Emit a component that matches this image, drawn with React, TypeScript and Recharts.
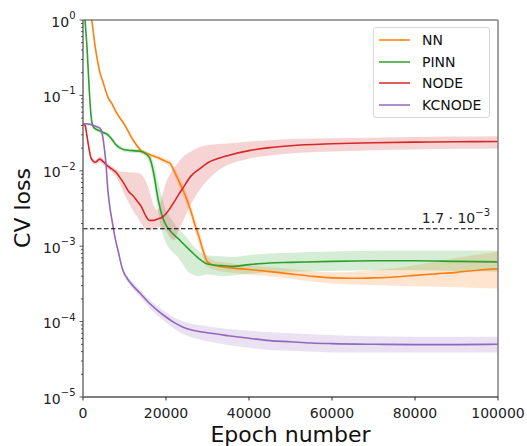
import React from 'react';
import { ComposedChart, Line, Area, XAxis, YAxis, ReferenceLine, Label } from 'recharts';

const FONT = '"DejaVu Sans", "Liberation Sans", sans-serif';

// NN
const nnEpochs = [0, 1000, 2000, 3000, 4000, 5000, 6000, 7000, 8000, 10000, 12000, 14000, 16000, 18000, 20000, 21000, 22000, 23000, 24000, 25000, 26000, 27000, 28000, 29000, 30000, 32000, 35000, 40000, 45000, 50000, 55000, 60000, 65000, 70000, 75000, 80000, 85000, 90000, 95000, 100000];
const nnMean = [5.0, 2.2, 1.1, 0.42, 0.21, 0.14, 0.095, 0.077, 0.06, 0.041, 0.026, 0.0185, 0.0165, 0.015, 0.0133, 0.0125, 0.0098, 0.0075, 0.0057, 0.0042, 0.0029, 0.0019, 0.0013, 0.00085, 0.00062, 0.00055, 0.00052, 0.00049, 0.00046, 0.00043, 0.0004, 0.00038, 0.000375, 0.00038, 0.00039, 0.00041, 0.00043, 0.00045, 0.00048, 0.0005];
const nnLow = [4.7, 2.05, 1.03, 0.4, 0.2, 0.133, 0.09, 0.073, 0.057, 0.039, 0.0245, 0.0174, 0.0155, 0.014, 0.0122, 0.0113, 0.0086, 0.0064, 0.0048, 0.0035, 0.0024, 0.00155, 0.00105, 0.0007, 0.00053, 0.00048, 0.00045, 0.00042, 0.0004, 0.00037, 0.00034, 0.00032, 0.00031, 0.000305, 0.0003, 0.000295, 0.00029, 0.000285, 0.00028, 0.000275];
const nnHigh = [5.3, 2.35, 1.17, 0.44, 0.22, 0.147, 0.1, 0.081, 0.063, 0.043, 0.0275, 0.0196, 0.0175, 0.016, 0.0145, 0.0138, 0.0112, 0.0088, 0.0068, 0.005, 0.0035, 0.0023, 0.0016, 0.00103, 0.00073, 0.00063, 0.0006, 0.00056, 0.00053, 0.0005, 0.00047, 0.00045, 0.00046, 0.00048, 0.00051, 0.00056, 0.00062, 0.0007, 0.00077, 0.00085];

// PINN
const pinnEpochs = [0, 500, 1000, 1500, 2000, 2500, 3000, 4000, 5000, 6000, 7000, 8000, 9000, 10000, 12000, 14000, 16000, 17000, 18000, 19000, 20000, 21000, 22000, 23000, 24000, 25000, 26000, 28000, 30000, 32000, 34000, 36000, 40000, 45000, 50000, 60000, 70000, 80000, 90000, 100000];
const pinnMean = [3.0, 1.0, 0.4, 0.12, 0.05, 0.038, 0.036, 0.034, 0.032, 0.03, 0.026, 0.022, 0.02, 0.019, 0.0185, 0.018, 0.015, 0.0095, 0.0045, 0.0026, 0.0019, 0.0016, 0.0014, 0.00125, 0.0011, 0.00097, 0.00086, 0.00068, 0.00058, 0.00056, 0.00055, 0.00054, 0.00057, 0.0006, 0.00061, 0.00063, 0.00064, 0.00064, 0.00063, 0.00062];
const pinnLow = [2.8, 0.93, 0.37, 0.11, 0.046, 0.036, 0.034, 0.032, 0.03, 0.028, 0.024, 0.0205, 0.0187, 0.0178, 0.0174, 0.0168, 0.0125, 0.007, 0.003, 0.0016, 0.0011, 0.0009, 0.0008, 0.0007, 0.00058, 0.00048, 0.00043, 0.0004, 0.00042, 0.00041, 0.0004, 0.00041, 0.00043, 0.00045, 0.00046, 0.00047, 0.00048, 0.00048, 0.00047, 0.00046];
const pinnHigh = [3.2, 1.07, 0.43, 0.13, 0.054, 0.04, 0.038, 0.036, 0.034, 0.032, 0.028, 0.0235, 0.0213, 0.0202, 0.0196, 0.0192, 0.017, 0.013, 0.0075, 0.0045, 0.003, 0.0024, 0.002, 0.0017, 0.0015, 0.0013, 0.0011, 0.00085, 0.00075, 0.00074, 0.00073, 0.00072, 0.00076, 0.0008, 0.00082, 0.00085, 0.00087, 0.00088, 0.00088, 0.00087];

// NODE
const nodeEpochs = [0, 500, 1000, 1500, 2000, 3000, 4000, 5000, 6000, 7000, 8000, 9000, 10000, 11000, 12000, 13000, 14000, 15000, 16000, 17000, 18000, 19000, 20000, 21000, 22000, 23000, 24000, 26000, 28000, 30000, 32000, 35000, 40000, 45000, 50000, 60000, 70000, 80000, 90000, 100000];
const nodeMean = [0.042, 0.04, 0.028, 0.019, 0.0145, 0.013, 0.0143, 0.013, 0.0115, 0.0105, 0.0095, 0.008, 0.0066, 0.0053, 0.0047, 0.004, 0.0034, 0.0026, 0.0022, 0.0022, 0.0023, 0.0024, 0.0027, 0.0032, 0.0039, 0.0048, 0.0058, 0.0085, 0.0105, 0.0127, 0.0142, 0.016, 0.0185, 0.0203, 0.0215, 0.0228, 0.0236, 0.024, 0.0243, 0.0245];
const nodeLow = [0.04, 0.038, 0.026, 0.0175, 0.0135, 0.012, 0.013, 0.0118, 0.0105, 0.0095, 0.0083, 0.0065, 0.0048, 0.0038, 0.003, 0.0025, 0.002, 0.0017, 0.0016, 0.0017, 0.0018, 0.0017, 0.0016, 0.0013, 0.0012, 0.0016, 0.0021, 0.0036, 0.0055, 0.0075, 0.0095, 0.012, 0.0145, 0.016, 0.017, 0.018, 0.0188, 0.0192, 0.0196, 0.0198];
const nodeHigh = [0.044, 0.042, 0.03, 0.0205, 0.0155, 0.014, 0.0155, 0.0142, 0.0125, 0.0115, 0.0105, 0.0098, 0.0097, 0.0096, 0.0095, 0.0094, 0.009, 0.0075, 0.0055, 0.0035, 0.003, 0.0045, 0.007, 0.009, 0.011, 0.013, 0.015, 0.018, 0.0205, 0.022, 0.0225, 0.023, 0.0245, 0.0255, 0.0265, 0.027, 0.0275, 0.028, 0.0285, 0.0288];

// KCNODE
const kcEpochs = [0, 2000, 3000, 4000, 4500, 5000, 5500, 6000, 6500, 7000, 7500, 8000, 8500, 9000, 9500, 10000, 11000, 12000, 14000, 16000, 18000, 20000, 22000, 24000, 26000, 28000, 30000, 35000, 40000, 45000, 50000, 55000, 60000, 70000, 80000, 90000, 100000];
const kcMean = [0.042, 0.041, 0.039, 0.037, 0.033, 0.023, 0.013, 0.0055, 0.0032, 0.0022, 0.0015, 0.0011, 0.00085, 0.00064, 0.0005, 0.00043, 0.00035, 0.0003, 0.00023, 0.000175, 0.00014, 0.000115, 0.000097, 0.000085, 0.000078, 0.000074, 0.000071, 0.000065, 0.00006, 0.000056, 0.000054, 0.000052, 0.000051, 0.00005, 0.0000495, 0.0000495, 0.00005];
const kcLow = [0.0405, 0.0395, 0.0375, 0.0355, 0.0315, 0.022, 0.0124, 0.0052, 0.003, 0.0021, 0.00142, 0.00104, 0.0008, 0.0006, 0.00047, 0.0004, 0.00032, 0.00027, 0.000205, 0.000153, 0.00012, 0.000097, 0.00008, 0.000069, 0.000062, 0.000058, 0.000055, 0.000049, 0.000045, 0.000042, 0.000041, 0.00004, 0.000039, 0.000039, 0.000039, 0.000039, 0.000039];
const kcHigh = [0.0435, 0.0425, 0.0405, 0.0385, 0.0345, 0.024, 0.0136, 0.0058, 0.0034, 0.0023, 0.00158, 0.00116, 0.0009, 0.00068, 0.00053, 0.00046, 0.00038, 0.00033, 0.000255, 0.000197, 0.00016, 0.000133, 0.000114, 0.000101, 0.000094, 0.00009, 0.000087, 0.00008, 0.000076, 0.000072, 0.00007, 0.000068, 0.000066, 0.000064, 0.000063, 0.000063, 0.000063];

const xTicks = [0, 20000, 40000, 60000, 80000, 100000];
const yDecades = [-5, -4, -3, -2, -1, 0];
const threshold = 1.7e-3;

const buildRows = (epochs: number[], mean: number[], low: number[], high: number[]) =>
  epochs.map((x, i) => ({ x, y: mean[i], band: [low[i], high[i]] }));

const series = [
  { name: 'NN', color: '#ff7f0e', rows: buildRows(nnEpochs, nnMean, nnLow, nnHigh) },
  { name: 'PINN', color: '#2ca02c', rows: buildRows(pinnEpochs, pinnMean, pinnLow, pinnHigh) },
  { name: 'NODE', color: '#d62728', rows: buildRows(nodeEpochs, nodeMean, nodeLow, nodeHigh) },
  { name: 'KCNODE', color: '#9467bd', rows: buildRows(kcEpochs, kcMean, kcLow, kcHigh) },
];

// major decades plus the 2..9 minor ticks in between
const yTicks: number[] = [];
yDecades.forEach((d) => {
  yTicks.push(Math.pow(10, d));
  if (d < 0) for (let m = 2; m <= 9; m++) yTicks.push(m * Math.pow(10, d));
});

const isMajor = (v: number) => Math.abs(Math.log10(v) - Math.round(Math.log10(v))) < 1e-6;

const YTick = (props: any) => {
  const { x, y, payload } = props;
  const v = payload.value;
  if (!isMajor(v)) {
    return <line x1={x} x2={x - 2} y1={y} y2={y} stroke="#333" strokeWidth={0.8} />;
  }
  const exp = Math.round(Math.log10(v));
  return (
    <g>
      <line x1={x} x2={x - 3.5} y1={y} y2={y} stroke="#333" strokeWidth={0.8} />
      <text x={x - 7.5} y={y + 6.5} textAnchor="end" fontSize={14} fontFamily={FONT} fill="#222">
        10
        <tspan dy={-7.5} fontSize={10}>{exp < 0 ? '\u2212' + Math.abs(exp) : String(exp)}</tspan>
      </text>
    </g>
  );
};

const XTick = (props: any) => {
  const { x, y, payload } = props;
  return (
    <g>
      <line x1={x} x2={x} y1={y} y2={y + 3.5} stroke="#000" strokeWidth={0.8} />
      <text x={x} y={y + 21} textAnchor="middle" fontSize={14} fontFamily={FONT} fill="#222">
        {payload.value}
      </text>
    </g>
  );
};

const ThresholdLabel = (props: any) => {
  const vb = props.viewBox || {};
  return (
    <text x={vb.x + vb.width - 8} y={vb.y - 6} textAnchor="end" fontSize={14} fontFamily={FONT} fill="#222">
      1.7 · 10
      <tspan dy={-7} fontSize={10}>{'\u22123'}</tspan>
    </text>
  );
};

const Legend = () => (
  <div
    style={{
      position: 'absolute',
      left: 373,
      top: 27,
      width: 117,
      height: 91,
      boxSizing: 'border-box',
      border: '1px solid #d6d6d6',
      borderRadius: 3,
      background: 'rgba(255,255,255,0.85)',
      paddingTop: 1,
      fontFamily: FONT,
      fontSize: 14,
      color: '#111',
    }}
  >
    {series.map((s) => (
      <div key={s.name} style={{ height: 21.7, display: 'flex', alignItems: 'center' }}>
        <div style={{ marginLeft: 5, width: 31, height: 2, background: s.color, opacity: 0.75 }} />
        <span style={{ marginLeft: 12 }}>{s.name}</span>
      </div>
    ))}
  </div>
);

export default function App() {
  return (
    <div style={{ position: 'absolute', left: 0, top: 0, width: 527, height: 446, background: '#fff', fontFamily: FONT }}>
      <ComposedChart width={527} height={446} margin={{ top: 20, right: 29, bottom: 0, left: 0 }}>
        <XAxis
          dataKey="x"
          type="number"
          domain={[0, 100000]}
          ticks={xTicks}
          interval={0}
          allowDataOverflow
          height={49}
          tickSize={0}
          tickMargin={0}
          tick={<XTick />}
          axisLine={{ stroke: '#000', strokeWidth: 1.2 }}
        >
          <Label
            content={() => (
              <text x={290.5} y={442} textAnchor="middle" fontSize={22} fontFamily={FONT} fill="#111">
                Epoch number
              </text>
            )}
          />
        </XAxis>
        <YAxis
          type="number"
          scale="log"
          domain={[1e-5, 1]}
          ticks={yTicks}
          interval={0}
          allowDataOverflow
          width={83}
          tickSize={0}
          tickMargin={0}
          tick={<YTick />}
          axisLine={{ stroke: '#777', strokeWidth: 1.6 }}
        >
          <Label
            content={() => (
              <text x={30} y={208} transform="rotate(-90 30 208)" textAnchor="middle" fontSize={22} fontFamily={FONT} fill="#111">
                CV loss
              </text>
            )}
          />
        </YAxis>

        {series.map((s) => (
          <Area
            key={s.name + '-band'}
            data={s.rows}
            dataKey="band"
            type="monotone"
            stroke="none"
            fill={s.color}
            fillOpacity={0.2}
            dot={false}
            activeDot={false}
            isAnimationActive={false}
          />
        ))}
        {series.map((s) => (
          <Line
            key={s.name}
            data={s.rows}
            dataKey="y"
            name={s.name}
            type="monotone"
            stroke={s.color}
            strokeWidth={1.6}
            dot={false}
            activeDot={false}
            isAnimationActive={false}
          />
        ))}

        <ReferenceLine y={threshold} stroke="#000" strokeWidth={1.1} strokeDasharray="4.5 2.5">
          <Label content={<ThresholdLabel />} />
        </ReferenceLine>
        <ReferenceLine y={1} stroke="#444" strokeWidth={1.2} />
        <ReferenceLine x={100000} stroke="#888" strokeWidth={1.6} />
      </ComposedChart>
      <Legend />
    </div>
  );
}
